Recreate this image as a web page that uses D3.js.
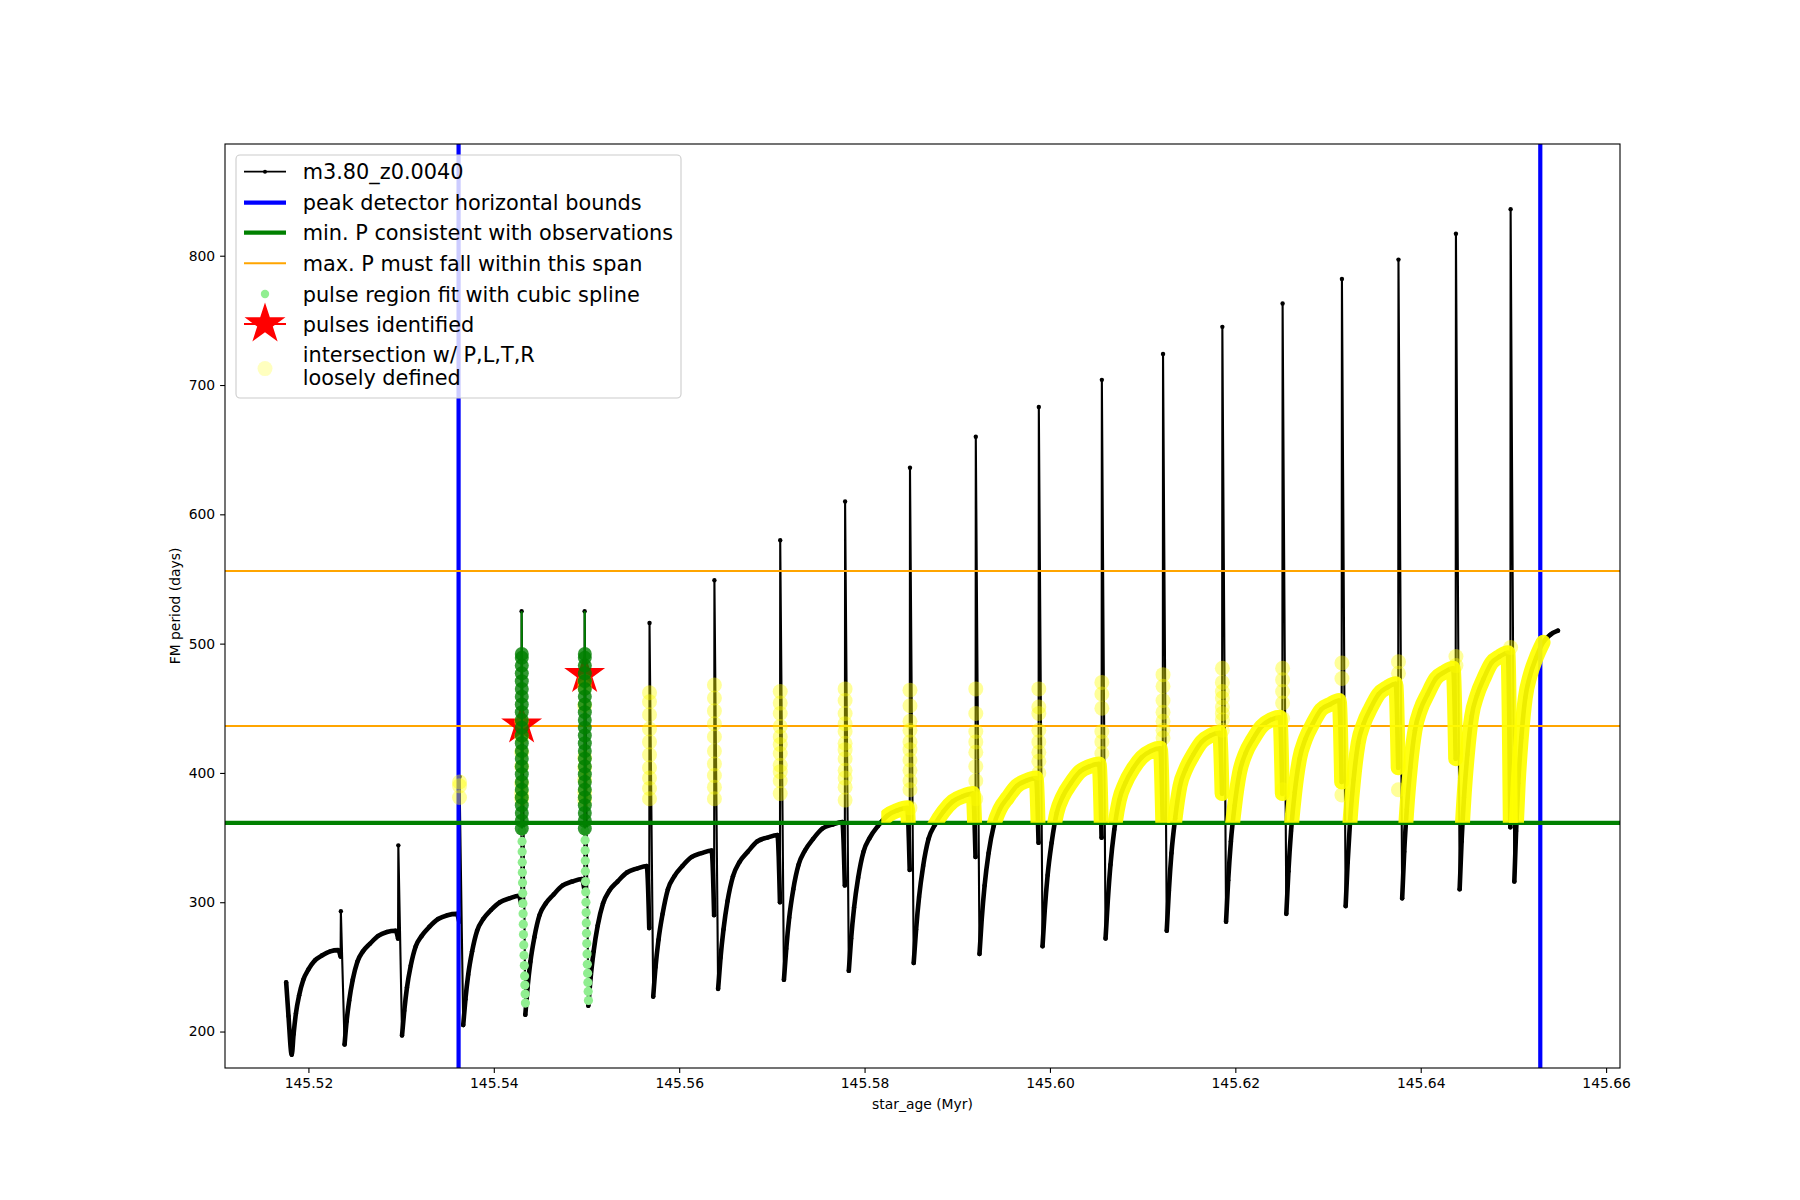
<!DOCTYPE html>
<html>
<head>
<meta charset="utf-8">
<script src="https://cdn.jsdelivr.net/npm/d3@7"></script>
<style>
  body { margin: 0; background: #fff; }
  svg { display: block; font-family: "DejaVu Sans", sans-serif; }
</style>
</head>
<body>
<svg id="chart" width="1800" height="1200"></svg>
<script>
// ---- values ----
// thermal pulses: age of the spike, bottom of the drop before it, top of the spike
const pulseAge = [145.5235, 145.5297, 145.5363, 145.5430, 145.5498, 145.5568, 145.5638, 145.5709, 145.5779, 145.5849,
                  145.5920, 145.5988, 145.6056, 145.6122, 145.6186, 145.6251, 145.6315, 145.6376, 145.6438, 145.6497];
const stubP = [258, 272, 285, 298, 310, 280, 290, 300, 313, 325, 335, 346, 350, 362, 384, 384, 393, 404, 411, 358];
const spikeP = [293, 344, 397, 525, 525, 516, 549, 580, 610, 636, 660, 683, 704, 724, 745, 763, 782, 797, 817, 836];

// interpulse stretches [age, period]: from the dip after a pulse up to the knee before the next one
const interpulse = [
  [[145.5176,238],[145.51785,212],[145.5182,182],[145.5184,198],[145.51865,214],[145.5190,228],[145.51945,240],[145.5200,248],[145.5207,255],[145.5215,259],[145.52235,262],[145.5232,263]],
  [[145.5239,190],[145.52412,208],[145.5244,224],[145.52478,240],[145.52528,254],[145.52588,262],[145.52665,268],[145.52753,274],[145.52847,277],[145.5294,278]],
  [[145.5301,197],[145.53034,216],[145.53063,234],[145.53104,251],[145.53158,266],[145.53222,274],[145.53305,281],[145.53399,287],[145.535,290],[145.536,291]],
  [[145.5367,205],[145.53694,225],[145.53724,244],[145.53766,262],[145.5382,278],[145.53886,287],[145.5397,294],[145.54066,300],[145.54168,303],[145.5427,305]],
  [[145.5434,213],[145.54364,234],[145.54395,254],[145.54438,273],[145.54493,290],[145.5456,299],[145.54645,306],[145.54743,313],[145.54846,316],[145.5495,318]],
  [[145.5502,220],[145.55045,242],[145.55077,262],[145.55121,282],[145.55178,299],[145.55247,309],[145.55335,316],[145.55436,323],[145.55543,326],[145.5565,328]],
  [[145.5572,227],[145.55745,250],[145.55777,271],[145.55821,291],[145.55878,310],[145.55947,320],[145.56035,328],[145.56136,335],[145.56243,338],[145.5635,340]],
  [[145.5642,233],[145.56446,257],[145.56478,279],[145.56522,301],[145.5658,320],[145.5665,331],[145.5674,339],[145.56842,347],[145.56951,350],[145.5706,352]],
  [[145.5713,240],[145.57155,264],[145.57187,288],[145.57231,310],[145.57288,329],[145.57357,340],[145.57445,349],[145.57546,357],[145.57653,360],[145.5776,362]],
  [[145.5783,247],[145.57855,272],[145.57887,296],[145.57931,319],[145.57988,339],[145.58057,350],[145.58145,359],[145.58246,367],[145.58353,371],[145.5846,373]],
  [[145.5853,253],[145.58556,279],[145.58588,304],[145.58632,328],[145.5869,349],[145.5876,360],[145.5885,370],[145.58952,378],[145.59061,382],[145.5917,384]],
  [[145.5924,260],[145.59264,287],[145.59295,313],[145.59338,338],[145.59393,359],[145.5946,372],[145.59545,381],[145.59643,390],[145.59746,394],[145.5985,396]],
  [[145.5992,266],[145.59944,294],[145.59975,321],[145.60018,346],[145.60073,369],[145.6014,382],[145.60225,392],[145.60323,401],[145.60426,405],[145.6053,407]],
  [[145.6060,272],[145.60624,301],[145.60653,329],[145.60694,356],[145.60748,379],[145.60812,392],[145.60895,403],[145.60989,412],[145.6109,417],[145.6119,419]],
  [[145.6126,278],[145.61283,309],[145.61311,338],[145.61351,365],[145.61403,390],[145.61465,403],[145.61545,414],[145.61636,424],[145.61733,429],[145.6183,431]],
  [[145.6190,285],[145.61923,317],[145.61952,347],[145.61993,375],[145.62045,400],[145.62109,415],[145.6219,426],[145.62283,436],[145.62381,441],[145.6248,443]],
  [[145.6255,291],[145.62573,324],[145.62601,355],[145.62641,385],[145.62693,411],[145.62755,426],[145.62835,438],[145.62926,449],[145.63023,453],[145.6312,456]],
  [[145.6319,297],[145.63212,331],[145.63239,364],[145.63276,395],[145.63325,423],[145.63384,438],[145.6346,450],[145.63546,461],[145.63638,466],[145.6373,469]],
  [[145.6380,303],[145.63822,339],[145.6385,372],[145.63888,404],[145.63938,433],[145.63998,449],[145.64075,461],[145.64163,473],[145.64257,478],[145.6435,481]],
  [[145.6442,310],[145.64441,347],[145.64467,381],[145.64503,414],[145.6455,444],[145.64607,460],[145.6468,473],[145.64763,485],[145.64852,490],[145.6494,493]],
  [[145.6501,316],[145.65029,355],[145.65052,392],[145.65085,427],[145.65128,458],[145.65179,475],[145.65245,489],[145.6532,501],[145.654,507],[145.6548,510]]
];

const boundAge = [145.5362, 145.6529];       // blue verticals
const minP = 361.4;                          // green horizontal
const maxPSpan = [436.2, 556.1];             // orange horizontals

const regionAge = [145.54304,145.54305,145.54306,145.54307,145.54308,145.5431,145.54312,145.54314,145.54316,145.54318,145.5432,145.54323,145.54326,145.54329,145.54332,145.54335,145.54338,145.54341,
                   145.54984,145.54985,145.54986,145.54987,145.54988,145.5499,145.54992,145.54994,145.54996,145.54998,145.55,145.55003,145.55006,145.55009,145.55012,145.55015,145.55018,145.55021];
const regionP = [355,347,339,331,323,315,307,299,291,283,275,267,259,251,243,236,229,222,
                 355,348,340,332,324,316,308,300,292,284,276,268,260,252,245,238,231,224];

const splineAge = [145.54302, 145.54982];
const splineP = [357,363,369,375,381,387,393,399,405,411,417,423,429,435,441,447,453,459,465,471,477,483,489,492];
const splineTop = [525, 525];

const starAge = [145.5430, 145.5498];
const starP = [437, 476];

// loosely defined intersection: points on each spike, and the interpulse band
const looseOnSpike = [
  [], [], [381,390,393], [380,384,392,405,416,428,440], [379,385,395,404,412,452,466,471],
  [380,388,396,404,414,424,434,445,455,462], [380,389,398,407,417,428,438,448,458,468],
  [384,394,401,406,415,422,428,436,446,454,463], [379,389,396,402,411,418,423,432,438,446,456,465],
  [373,387,394,402,410,418,424,433,440,452,464], [380,394,405,416,424,432,446,465],
  [400,409,416,424,433,446,451,465], [415,424,432,450,461,470], [427,433,440,447,456,467,476],
  [433,441,446,451,458,463,470,481], [387,442,454,463,472,481], [383,473,485], [387,477,486],
  [483,490], [497]
];
const looseBandFrom = 145.5818;
const looseBandLow = 361.4;
const looseBandHigh = 502;

const xTicks = [145.52, 145.54, 145.56, 145.58, 145.60, 145.62, 145.64, 145.66];
const yTicks = [200, 300, 400, 500, 600, 700, 800];
const legendLabels = ["m3.80_z0.0040", "peak detector horizontal bounds", "min. P consistent with observations",
  "max. P must fall within this span", "pulse region fit with cubic spline", "pulses identified",
  ["intersection w/ P,L,T,R", "loosely defined"]];

// ---- drawing ----
const svg = d3.select("#chart");
const L = 225, R = 1620, T = 144, B = 1068;
const x = d3.scaleLinear().domain([145.5110, 145.6615]).range([L, R]);
const y = d3.scaleLinear().domain([171.8, 886.4]).range([B, T]);

svg.append("clipPath").attr("id", "plotClip")
  .append("rect").attr("x", L).attr("y", T).attr("width", R - L).attr("height", B - T);
svg.append("clipPath").attr("id", "bandClip")
  .append("rect").attr("x", x(looseBandFrom)).attr("y", T)
  .attr("width", R - x(looseBandFrom)).attr("height", y(looseBandLow) - T);

const plot = svg.append("g").attr("clip-path", "url(#plotClip)");

// full track and the dense interpulse pieces
const track = [];
const dense = [];
interpulse.forEach((seg, i) => {
  const piece = seg.slice();
  seg.forEach(p => track.push(p));
  if (i < pulseAge.length) {
    const stub = [pulseAge[i] - 0.00003, stubP[i]];
    piece.push(stub);
    track.push(stub);
    track.push([pulseAge[i], spikeP[i]]);
  }
  dense.push(piece);
});

const lineLin = d3.line().x(d => x(d[0])).y(d => y(d[1]));
const lineSmooth = d3.line().x(d => x(d[0])).y(d => y(d[1])).curve(d3.curveMonotoneX);

plot.append("path").attr("d", lineLin(track))
  .attr("fill", "none").attr("stroke", "#000").attr("stroke-width", 2.1).attr("stroke-linejoin", "round");
plot.append("g").selectAll("path").data(dense).enter().append("path")
  .attr("d", lineSmooth)
  .attr("fill", "none").attr("stroke", "#000").attr("stroke-width", 4.6)
  .attr("stroke-linejoin", "round").attr("stroke-linecap", "round");
plot.append("g").selectAll("circle").data(track).enter().append("circle")
  .attr("cx", d => x(d[0])).attr("cy", d => y(d[1])).attr("r", 2.2).attr("fill", "#000");

// reference lines
plot.selectAll(".bound").data(boundAge).enter().append("line")
  .attr("x1", d => x(d)).attr("x2", d => x(d)).attr("y1", T).attr("y2", B)
  .attr("stroke", "#0000ff").attr("stroke-width", 4.2);
plot.append("line").attr("x1", L).attr("x2", R).attr("y1", y(minP)).attr("y2", y(minP))
  .attr("stroke", "#008000").attr("stroke-width", 4.2);
plot.selectAll(".span").data(maxPSpan).enter().append("line")
  .attr("x1", L).attr("x2", R).attr("y1", d => y(d)).attr("y2", d => y(d))
  .attr("stroke", "#ffa500").attr("stroke-width", 2);

// pulse region points
plot.append("g").selectAll("circle").data(regionP).enter().append("circle")
  .attr("cx", (d, i) => x(regionAge[i])).attr("cy", d => y(d)).attr("r", 4.6).attr("fill", "#90ee90");

// identified pulses
const star = d3.symbol().type(d3.symbolStar).size(519);
plot.append("g").selectAll("path").data(starP).enter().append("path")
  .attr("d", star).attr("fill", "#ff0000")
  .attr("transform", (d, i) => `translate(${x(starAge[i])},${y(d)})`);

// loosely defined intersection
const bandData = dense.map(seg => seg.filter(p => p[1] <= looseBandHigh));
plot.append("g").attr("clip-path", "url(#bandClip)")
  .selectAll("path").data(bandData).enter().append("path")
  .attr("d", lineSmooth)
  .attr("fill", "none").attr("stroke", "#ffff00").attr("stroke-opacity", 0.93).attr("stroke-width", 15)
  .attr("stroke-linejoin", "round").attr("stroke-linecap", "round");
const loosePts = [];
looseOnSpike.forEach((vals, i) => vals.forEach(v => loosePts.push([pulseAge[i], v])));
plot.append("g").selectAll("circle").data(loosePts).enter().append("circle")
  .attr("cx", d => x(d[0])).attr("cy", d => y(d[1])).attr("r", 7.5)
  .attr("fill", "#ffff00").attr("fill-opacity", 0.4);

// cubic spline over the identified pulses
splineAge.forEach((a, k) => {
  plot.append("path")
    .attr("d", lineLin([[a, splineP[0]], [a - 0.00001, splineP[splineP.length - 1]], [a - 0.00002, splineTop[k]],
                        [a + 0.00001, splineP[splineP.length - 1]], [a + 0.00002, splineP[0]]]))
    .attr("fill", "none").attr("stroke", "#008000").attr("stroke-width", 2);
  plot.append("g").selectAll("circle").data(splineP).enter().append("circle")
    .attr("cx", x(a)).attr("cy", d => y(d)).attr("r", 7)
    .attr("fill", "#008000").attr("fill-opacity", 0.8);
});

// ---- axes ----
svg.append("rect").attr("x", L).attr("y", T).attr("width", R - L).attr("height", B - T)
  .attr("fill", "none").attr("stroke", "#000").attr("stroke-width", 1.1);

const styleAxis = g => {
  g.select(".domain").remove();
  g.attr("font-family", "DejaVu Sans").attr("font-size", 13.9);
  g.selectAll("line").attr("stroke", "#000").attr("stroke-width", 1.1);
  g.selectAll("text").attr("fill", "#000");
};
svg.append("g").attr("transform", `translate(0,${B})`)
  .call(d3.axisBottom(x).tickValues(xTicks).tickFormat(d3.format(".2f")).tickSize(4.9).tickPadding(4.9).tickSizeOuter(0))
  .call(styleAxis);
svg.append("g").attr("transform", `translate(${L},0)`)
  .call(d3.axisLeft(y).tickValues(yTicks).tickFormat(d3.format("d")).tickSize(4.9).tickPadding(4.9).tickSizeOuter(0))
  .call(styleAxis);

svg.append("text").attr("x", (L + R) / 2).attr("y", 1108.5).attr("text-anchor", "middle")
  .attr("font-size", 13.9).text("star_age (Myr)");
svg.append("text").attr("transform", `translate(180,${(T + B) / 2}) rotate(-90)`).attr("text-anchor", "middle")
  .attr("font-size", 13.9).text("FM period (days)");

// ---- legend ----
const lg = svg.append("g");
lg.append("rect").attr("x", 236).attr("y", 155).attr("width", 445).attr("height", 243).attr("rx", 4)
  .attr("fill", "#fff").attr("fill-opacity", 0.8).attr("stroke", "#cccccc").attr("stroke-width", 1.1);
const rowY = [171.7, 202.7, 232.7, 263.3, 294, 324, 365.6];
const hx0 = 244, hx1 = 286, hxc = 265, tx = 302.7, fs = 20.83;
const hline = (yy, color, w) => lg.append("line").attr("x1", hx0).attr("x2", hx1).attr("y1", yy).attr("y2", yy)
  .attr("stroke", color).attr("stroke-width", w);
hline(rowY[0], "#000", 1.8);
lg.append("circle").attr("cx", hxc).attr("cy", rowY[0]).attr("r", 2).attr("fill", "#000");
hline(rowY[1], "#0000ff", 4.2);
hline(rowY[2], "#008000", 4.2);
hline(rowY[3], "#ffa500", 2);
lg.append("circle").attr("cx", hxc).attr("cy", rowY[4]).attr("r", 4.2).attr("fill", "#90ee90");
hline(rowY[5], "#ff0000", 2);
lg.append("path").attr("d", star).attr("fill", "#ff0000").attr("transform", `translate(${hxc},${rowY[5]})`);
lg.append("circle").attr("cx", hxc).attr("cy", rowY[6] + 3).attr("r", 7.5).attr("fill", "#ffff00").attr("fill-opacity", 0.25);

legendLabels.forEach((lab, i) => {
  const lines = Array.isArray(lab) ? lab : [lab];
  const y0 = lines.length > 1 ? rowY[i] - 11.6 : rowY[i];
  lines.forEach((s, j) => {
    lg.append("text").attr("x", tx).attr("y", y0 + j * 23.3 + 7.6)
      .attr("font-size", fs).attr("fill", "#000").text(s);
  });
});
</script>
</body>
</html>
